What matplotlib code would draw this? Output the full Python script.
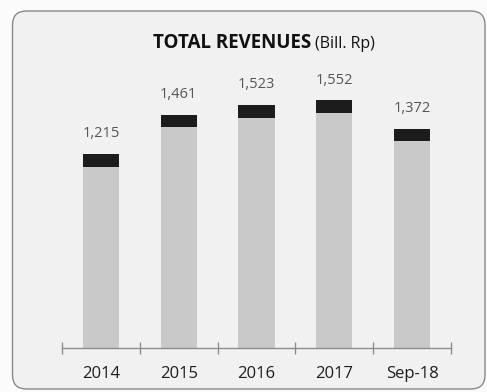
import numpy as np
import matplotlib.pyplot as plt
from matplotlib.patches import FancyBboxPatch

plt.rcParams['font.family'] = ['Open Sans', 'DejaVu Sans']

categories = ['2014', '2015', '2016', '2017', 'Sep-18']
totals = [1215, 1461, 1523, 1552, 1372]
# dark top segment of each bar
others = [80, 78, 80, 78, 78]

totals = np.array(totals)
others = np.array(others)
core = totals - others

fig = plt.figure(figsize=(4.87, 3.92), dpi=100)
fig.patch.set_facecolor('#fbfbfb')

# rounded panel behind the chart
panel = FancyBboxPatch((0.125, 0.03), 4.725, 3.78,
                       boxstyle='round,pad=0,rounding_size=0.14',
                       transform=fig.dpi_scale_trans,
                       facecolor='#f1f1f1', edgecolor='#8a8a8a', lw=1.0,
                       zorder=-5)
fig.patches.append(panel)

ax = fig.add_axes([62 / 487, 44 / 392, 389 / 487, 279.5 / 392])
ax.set_facecolor('none')
ax.set_zorder(2)

x = np.arange(len(categories))
ax.bar(x, core, width=0.465, color='#c9c9c9', zorder=2)
ax.bar(x, others, bottom=core, width=0.465, color='#1c1c1c', zorder=2)

for xi, t in zip(x, totals):
    ax.annotate(f'{t:,}', (xi, t), xytext=(0, 9), textcoords='offset points',
                ha='center', va='bottom', fontsize=10.5, color='#555555')

ax.set_xlim(-0.5, len(categories) - 0.5)
ax.set_ylim(0, 1750)
ax.set_yticks([])
for side in ['left', 'right', 'top']:
    ax.spines[side].set_visible(False)
ax.spines['bottom'].set_color('#8c8c8c')
ax.spines['bottom'].set_linewidth(1.0)

ax.set_xticks(x)
ax.set_xticklabels(categories, fontsize=12, color='#1e1e1e')
ax.tick_params(axis='x', which='major', length=0, pad=13)
ax.set_xticks(np.arange(-0.5, len(categories)), minor=True)
ax.tick_params(axis='x', which='minor', direction='inout', length=9,
               color='#8c8c8c', width=1.0)

# title: bold part + unit in regular weight
fig.text(311 / 487, 1 - 48 / 392, 'TOTAL REVENUES', ha='right', va='baseline',
         fontsize=13.5, fontweight='bold', color='#111111')
fig.text(315 / 487, 1 - 48 / 392, '(Bill. Rp)', ha='left', va='baseline',
         fontsize=11.5, color='#111111')

fig.savefig('out.png', dpi=100, facecolor=fig.get_facecolor())
